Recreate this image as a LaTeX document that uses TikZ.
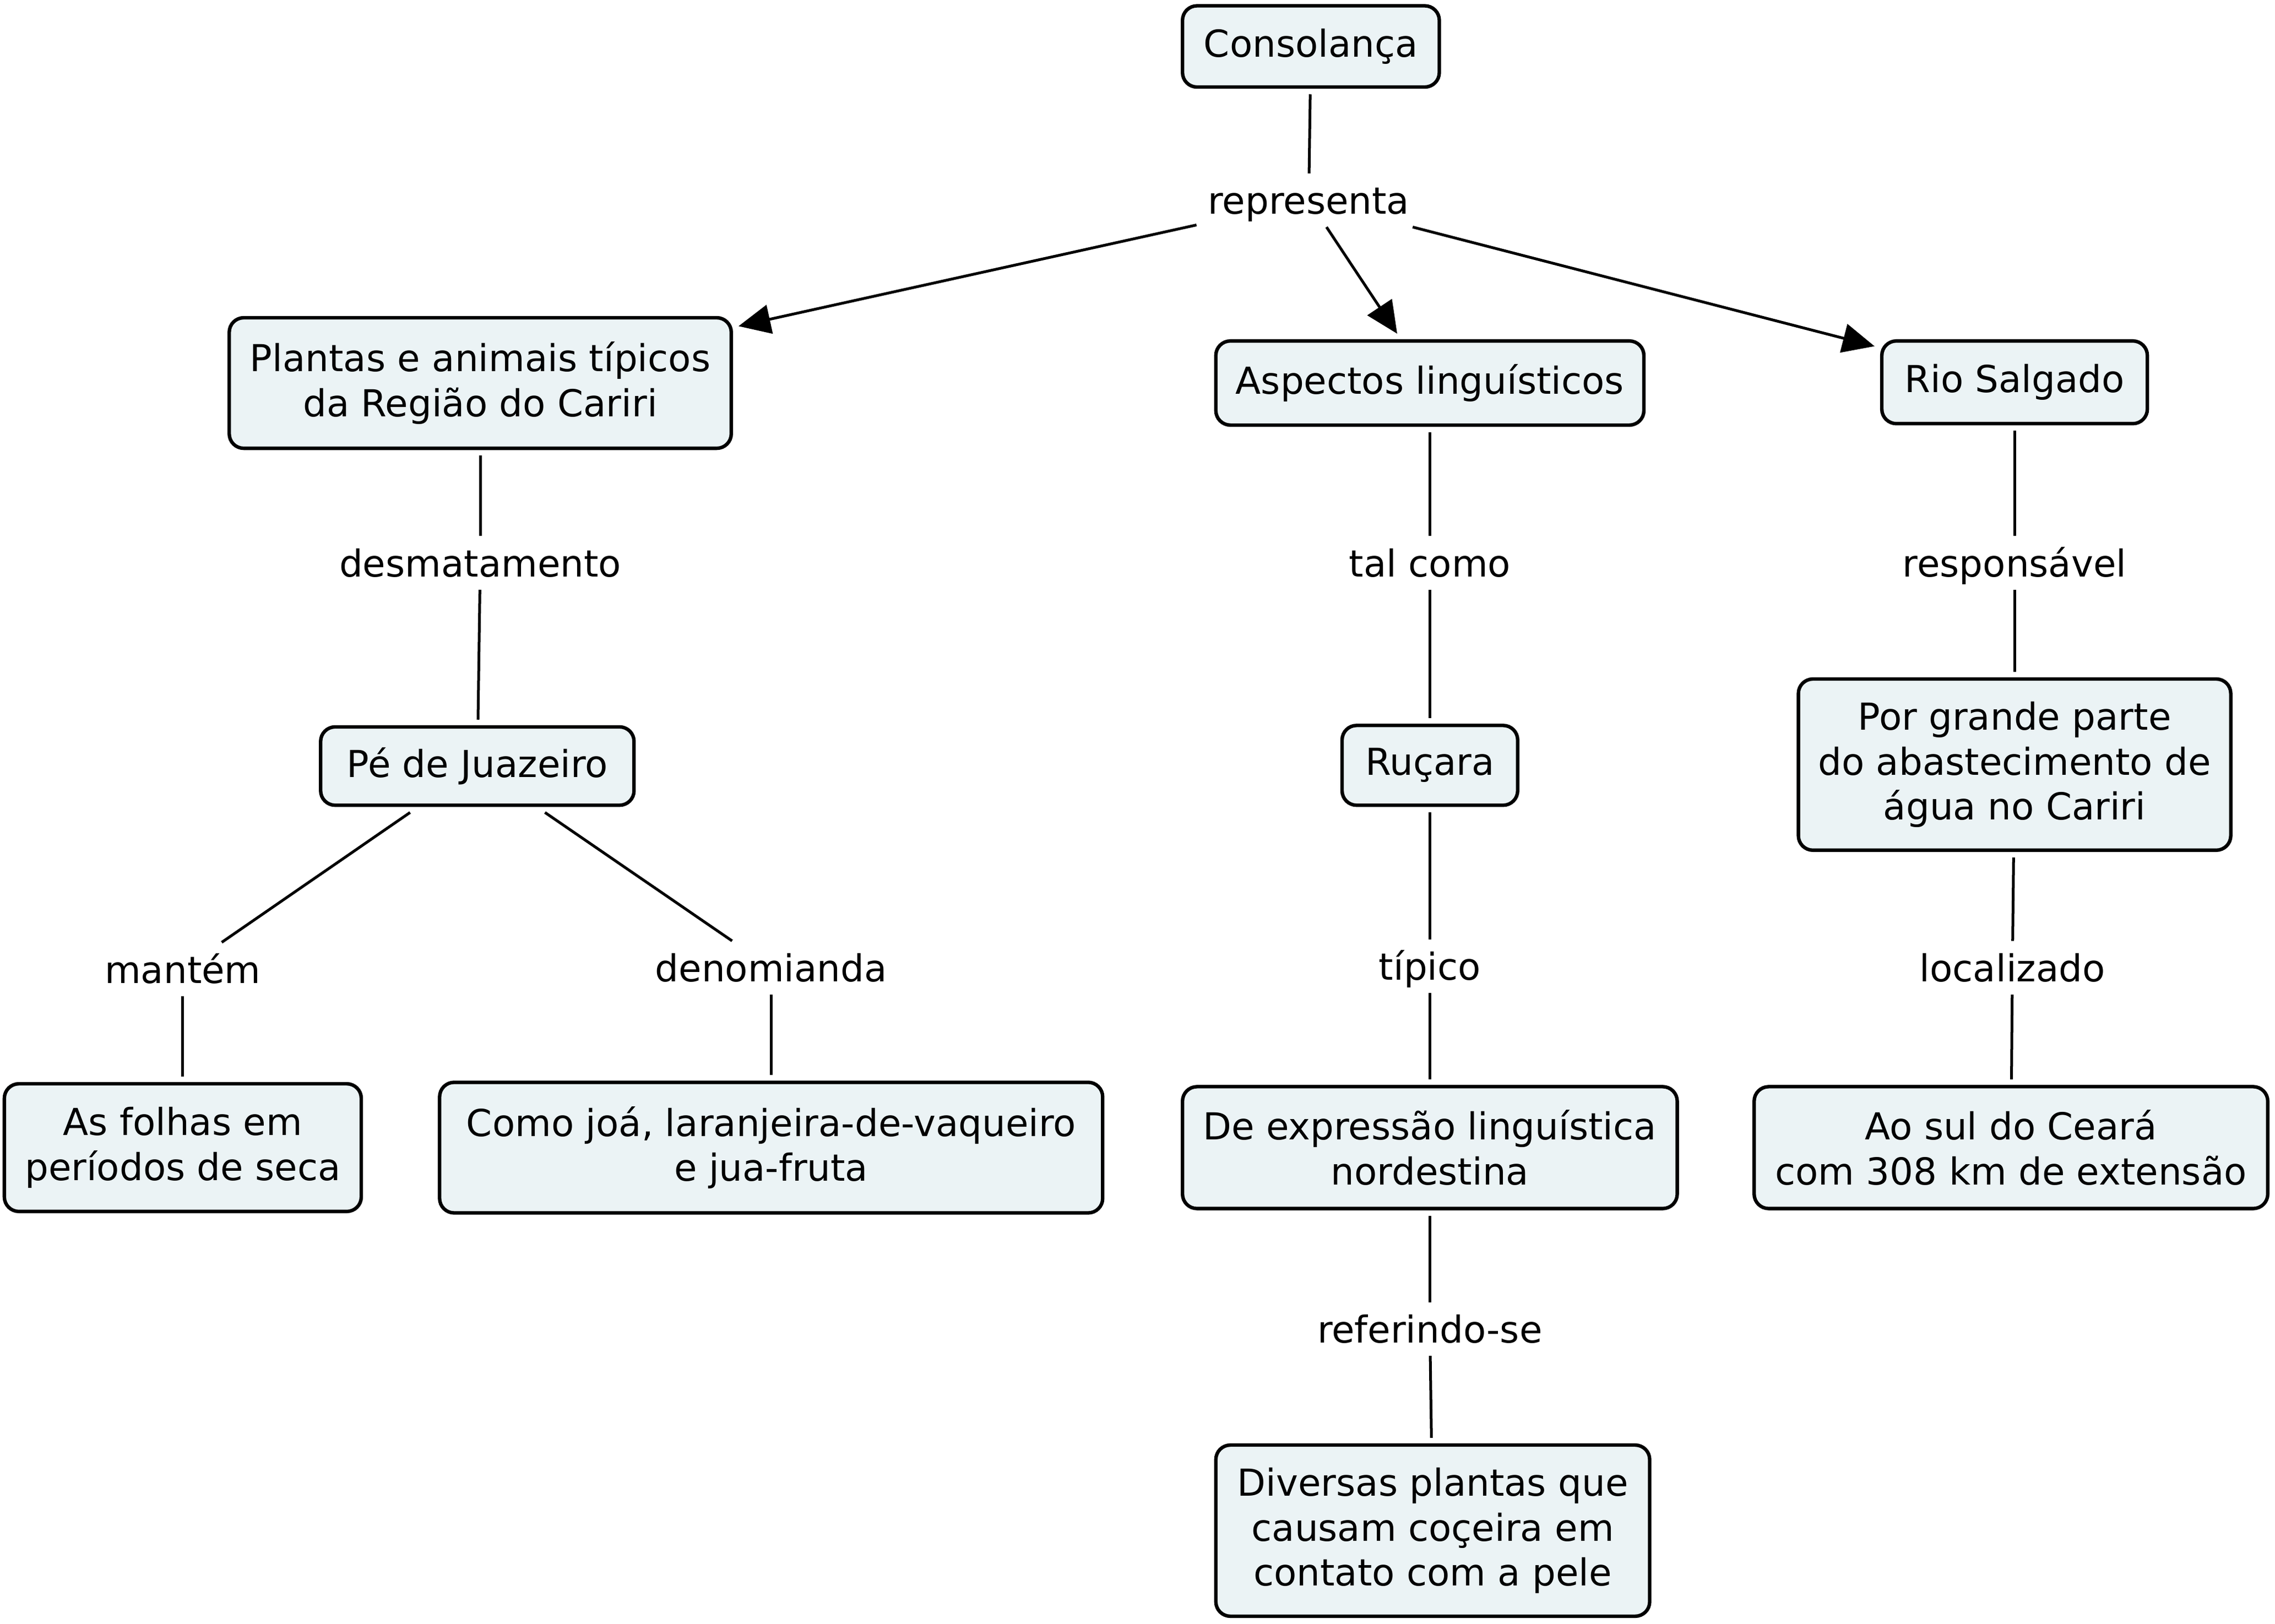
\documentclass[tikz,border=0pt]{standalone}
\usepackage{fontspec}
\setmainfont{DejaVu Sans}
\usetikzlibrary{arrows.meta}
\definecolor{boxfill}{RGB}{235,243,245}
\begin{document}
\begin{tikzpicture}[x=0.5pt,y=-0.5pt,
  concept/.style={draw=black, line width=1.2pt, fill=boxfill, rounded corners=5pt,
    align=center, font=\fontsize{12.8}{15.5}\selectfont, outer sep=2.5pt, inner sep=0pt},
  linkword/.style={font=\fontsize{12.8}{15.5}\selectfont, inner xsep=4pt, inner ysep=0pt,
    minimum height=18.5pt, text height=9.6pt, text depth=0pt, outer sep=0pt},
  conn/.style={line width=0.95pt},
  arr/.style={conn, -{Triangle[length=11pt,width=10pt]}}
]
\useasboundingbox (0,0) rectangle (1568,1119);

% concepts
\node[concept, minimum width=88.5pt, minimum height=28pt] (cons) at (903.5,32) {Consolança};
\node[concept, minimum width=173pt, minimum height=45pt] (plantas) at (331,264) {Plantas e animais típicos\\da Região do Cariri};
\node[concept, minimum width=147.5pt, minimum height=29pt] (aspectos) at (985.5,264) {Aspectos linguísticos};
\node[concept, minimum width=91.5pt, minimum height=28.5pt] (rio) at (1388.5,263.5) {Rio Salgado};
\node[concept, minimum width=108pt, minimum height=27pt] (pe) at (329,528) {Pé de Juazeiro};
\node[concept, minimum width=60.5pt, minimum height=27.5pt] (rucara) at (985.5,527.5) {Ruçara};
\node[concept, minimum width=149pt, minimum height=59pt] (porgrande) at (1388.5,527) {Por grande parte\\do abastecimento de\\água no Cariri};
\node[concept, minimum width=123pt, minimum height=44pt] (folhas) at (126,791) {As folhas em\\períodos de seca};
\node[concept, minimum width=228.5pt, minimum height=45pt] (como) at (531.5,791) {Como joá, laranjeira-de-vaqueiro\\e jua-fruta};
\node[concept, minimum width=170.5pt, minimum height=42pt] (expressao) at (985.5,791) {De expressão linguística\\nordestina};
\node[concept, minimum width=177pt, minimum height=42pt] (aosul) at (1386,791) {Ao sul do Ceará\\com 308 km de extensão};
\node[concept, minimum width=149.5pt, minimum height=59pt] (diversas) at (987.5,1055) {Diversas plantas que\\causam coçeira em\\contato com a pele};

% linking words
\node[linkword] (representa) at (902,138) {representa};
\node[linkword] (desmatamento) at (331,388) {desmatamento};
\node[linkword] (talcomo) at (985.5,388) {tal como};
\node[linkword] (responsavel) at (1388.5,388) {responsável};
\node[linkword] (mantem) at (126,668) {mantém};
\node[linkword] (denomianda) at (531.5,667) {denomianda};
\node[linkword] (tipico) at (985.5,666) {típico};
\node[linkword] (localizado) at (1387,667) {localizado};
\node[linkword] (referindo) at (985.5,916) {referindo-se};

% connectors
\draw[conn] (cons) -- (representa);
\draw[arr] (representa) -- (plantas);
\draw[arr] (representa) -- (aspectos);
\draw[arr] (representa) -- (rio);

\draw[conn] (plantas) -- (desmatamento);
\draw[conn] (desmatamento) -- (pe);
\draw[conn] (pe) -- (mantem);
\draw[conn] (mantem) -- (folhas);
\draw[conn] (pe) -- (denomianda);
\draw[conn] (denomianda) -- (como);

\draw[conn] (aspectos) -- (talcomo);
\draw[conn] (talcomo) -- (rucara);
\draw[conn] (rucara) -- (tipico);
\draw[conn] (tipico) -- (expressao);
\draw[conn] (expressao) -- (referindo);
\draw[conn] (referindo) -- (diversas);

\draw[conn] (rio) -- (responsavel);
\draw[conn] (responsavel) -- (porgrande);
\draw[conn] (porgrande) -- (localizado);
\draw[conn] (localizado) -- (aosul);
\end{tikzpicture}
\end{document}
